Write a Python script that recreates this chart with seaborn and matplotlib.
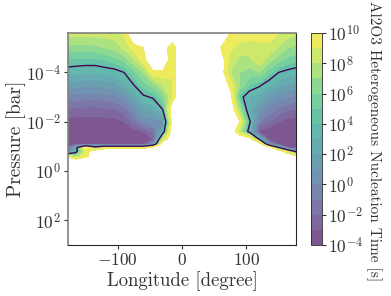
import numpy as np
import matplotlib
matplotlib.use("Agg")
import matplotlib.pyplot as plt
import seaborn as sns
from matplotlib.colors import ListedColormap

# longitude in degree, log10 pressure in bar
longitude = [-180, -165, -150, -135, -120, -105, -90, -75, -60, -45, -30, -15, 0,
             15, 30, 45, 60, 75, 90, 105, 120, 135, 150, 165, 180]
log_pressure = [-5.6, -5.0, -4.5, -4.0, -3.5, -3.0, -2.5, -2.0, -1.6, -1.3, -1.1, -0.95, -0.8, -0.6, -0.4, 3.0]

# log10 nucleation time in s, 12 is off the colour scale (white)
row_00 = [8.5, 8.5, 8.5, 8.5, 8.5, 8.6, 9.2, 12, 12, 12, 12, 12, 12, 12, 12, 12, 12, 10, 9.7, 9.6, 9.6, 9.4, 9, 8.5, 8.2]
row_01 = [6.5, 6.5, 6.6, 6.7, 7.0, 7.3, 8.2, 9.4, 10, 12, 11, 9, 12, 12, 12, 12, 10, 9.2, 8.6, 8.4, 8.6, 8.8, 7.8, 7, 6.8]
row_02 = [4.8, 4.7, 4.7, 4.7, 5.0, 5.5, 6.3, 7.8, 9.5, 11.5, 11.5, 9, 12, 12, 12, 12, 11, 8.6, 7.6, 7.8, 8.8, 7.4, 6.4, 5.6, 5]
row_03 = [3.4, 3.3, 3.1, 3.1, 3.3, 3.4, 4.0, 5.6, 7.0, 9.8, 9.8, 9.2, 12, 12, 12, 12, 11, 8, 7, 6.5, 7, 5.4, 4, 3.5, 3.3]
row_04 = [1.6, 1.5, 1.3, 1.3, 1.5, 1.6, 2.5, 4, 5.5, 6.5, 8, 8.8, 12, 12, 12, 12, 12, 9.5, 7, 5, 4.3, 3.2, 2.4, 1.9, 1.6]
row_05 = [-0.3, -0.5, -0.6, -0.7, -0.5, -0.3, 0.3, 2.0, 3.7, 4.2, 6, 9, 12, 12, 12, 12, 12, 11, 4.5, 3, 2.4, 1.3, 0.4, 0, -0.3]
row_06 = [-2.1, -2.2, -2.4, -2.4, -2.2, -2.1, -1.5, 0.2, 1.9, 2.3, 4, 12, 12, 12, 12, 12, 12, 12, 7, 2.5, 0.9, -0.4, -1.2, -1.9, -2.1]
row_07 = [-3.5, -3.5, -3.5, -3.5, -3.5, -3.5, -3.0, -1.5, 0.1, 0.5, 0.5, 11, 12, 12, 12, 12, 12, 12, 10, 4.3, -0.8, -1.9, -3, -3.5, -3.5]
row_08 = [-3.7, -3.7, -3.7, -3.7, -3.7, -3.7, -3.7, -3.5, -3, -2, 2.5, 12, 12, 12, 12, 12, 12, 12, 8, 3, -3.5, -3.7, -3.7, -3.7, -3.7]
row_09 = [-3.8, -3.8, -3.8, -3.8, -3.8, -3.8, -3.8, -3.8, -3.7, -3, 8, 12, 12, 12, 12, 12, 12, 12, 12, 12, 3.5, -3.6, -3.7, -3.7, -3.7]
row_10 = [-3.8, -3.5, -3.5, -3.8, -3.8, -3.8, -3.8, -3.8, -3.8, 0, 12, 12, 12, 12, 12, 12, 12, 12, 12, 12, 12, 0.6, -3.8, -3.8, -3.8]
row_11 = [-3.8, 3, 12, 6, 9, 9, 9, 9, 9, 12, 12, 12, 12, 12, 12, 12, 12, 12, 12, 12, 12, 12, 4.5, -3, -3.8]
row_12 = [-3, 3, 9, 12, 12, 12, 12, 12, 12, 12, 12, 12, 12, 12, 12, 12, 12, 12, 12, 12, 12, 12, 12, 8, 2]
row_13 = [10, 7, 9.5, 11, 12, 12, 12, 12, 12, 12, 12, 12, 12, 12, 12, 12, 12, 12, 12, 12, 12, 12, 12, 12, 10]
row_14 = [12] * 25
row_15 = [12] * 25

log_time = [row_00, row_01, row_02, row_03, row_04, row_05, row_06, row_07,
            row_08, row_09, row_10, row_11, row_12, row_13, row_14, row_15]

time_levels = list(range(-4, 11))
time_ticks = [-4, -2, 0, 2, 4, 6, 8, 10]
pressure_ticks = [-4, -2, 0, 2]
longitude_ticks = [-100, 0, 100]
line_level = [4]


def make_plot():

    sns.set_style("ticks")
    plt.rcParams['font.family'] = ['cmr10', 'DejaVu Serif']
    plt.rcParams['mathtext.fontset'] = 'cm'
    plt.rcParams['axes.unicode_minus'] = False
    plt.rcParams['axes.formatter.use_mathtext'] = True
    plt.rcParams['text.color'] = '#333333'
    plt.rcParams['axes.labelcolor'] = '#333333'
    plt.rcParams['xtick.color'] = '#333333'
    plt.rcParams['ytick.color'] = '#333333'

    # viridis washed out with white, same look as alpha 0.7 but without seams
    base = np.array(sns.color_palette("viridis", 256))
    cmap = ListedColormap(base * 0.7 + 0.3)

    fig = plt.figure(figsize=(3.91, 2.96), dpi=100)
    ax = fig.add_axes([68 / 391, 1 - 245 / 296, 228 / 391, 212 / 296])
    cax = fig.add_axes([310.5 / 391, 1 - 245 / 296, 11 / 391, 212 / 296])

    fill = ax.contourf(longitude, log_pressure, log_time, levels=time_levels, cmap=cmap)
    ax.contour(longitude, log_pressure, log_time, levels=line_level, colors="#440154", linewidths=1.0)

    ax.set_xlim(-177, 177)
    ax.set_ylim(3, -5.6)
    ax.set_xticks(longitude_ticks)
    ax.set_xticklabels([f"${t}$" if t >= 0 else f"$-{abs(t)}$" for t in longitude_ticks])
    ax.set_yticks(pressure_ticks)
    ax.set_yticklabels([f"$10^{{{t}}}$" for t in pressure_ticks])
    ax.tick_params(labelsize=12.5, length=3, width=0.8, pad=2)
    ax.set_xlabel("Longitude [degree]", fontsize=13.5, labelpad=2)
    ax.set_ylabel("Pressure [bar]", fontsize=14, labelpad=0)

    for side in ["left", "top"]:
        ax.spines[side].set_color("#808080")
        ax.spines[side].set_linewidth(1.2)

    bar = fig.colorbar(fill, cax=cax)
    bar.set_ticks(time_ticks)
    bar.set_ticklabels([f"$10^{{{t}}}$" for t in time_ticks])
    bar.ax.tick_params(labelsize=12.5, length=3, width=0.8, pad=2)
    bar.outline.set_linewidth(0.6)
    bar.set_label("Al2O3 Heterogeneous Nucleation Time [s]", rotation=270, fontsize=11, labelpad=13)
    bar.ax.yaxis.label.set_y(0.49)

    fig.savefig("out.png", dpi=100)


if __name__ == "__main__":
    make_plot()
